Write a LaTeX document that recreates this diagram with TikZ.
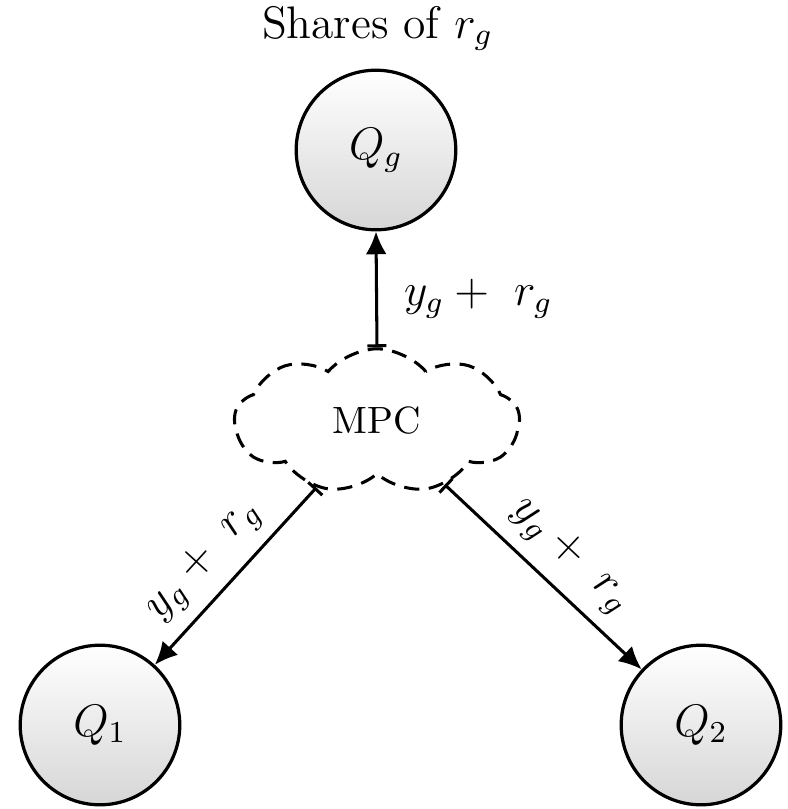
\documentclass[tikz,border=0pt]{standalone}
\usetikzlibrary{arrows.meta,shapes.symbols}
\begin{document}
\begin{tikzpicture}[x=0.26316pt,y=-0.26316pt,
  party/.style={circle,draw,line width=0.85pt,minimum size=42pt,inner sep=0pt,
    top color=white,bottom color=black!16,font=\large},
  mpcbox/.style={cloud,draw,line width=0.8pt,dash pattern=on 4pt off 2.5pt,
    cloud puffs=9,cloud puff arc=100,aspect=2,minimum width=75pt,minimum height=38pt,inner sep=0pt},
  conn/.style={line width=0.8pt,{Bar[width=5pt]}-{Latex[length=6pt,width=5.5pt]}},
  lab/.style={font=\large}]
\useasboundingbox (0,0) rectangle (788,809);
\node[anchor=base,font=\large] (title) at (377.5,38) {Shares of $r_g$};
\node[party] (qg) at (376,150) {$Q_g$};
\node[mpcbox] (mpc) at (377,421) {MPC};
\node[party] (q1) at (100,725) {$Q_1$};
\node[party] (q2) at (701,725) {$Q_2$};
\draw[conn] (mpc.north) -- (qg.south) node[lab,pos=0.42,right=3.5pt] {$y_g +\ r_g$};
\draw[conn] (mpc) -- (q1) node[lab,pos=0.54,sloped,auto] {$y_g +\ r_g$};
\draw[conn] (mpc) -- (q2) node[lab,pos=0.52,sloped,auto] {$y_g +\ r_g$};
\end{tikzpicture}
\end{document}
